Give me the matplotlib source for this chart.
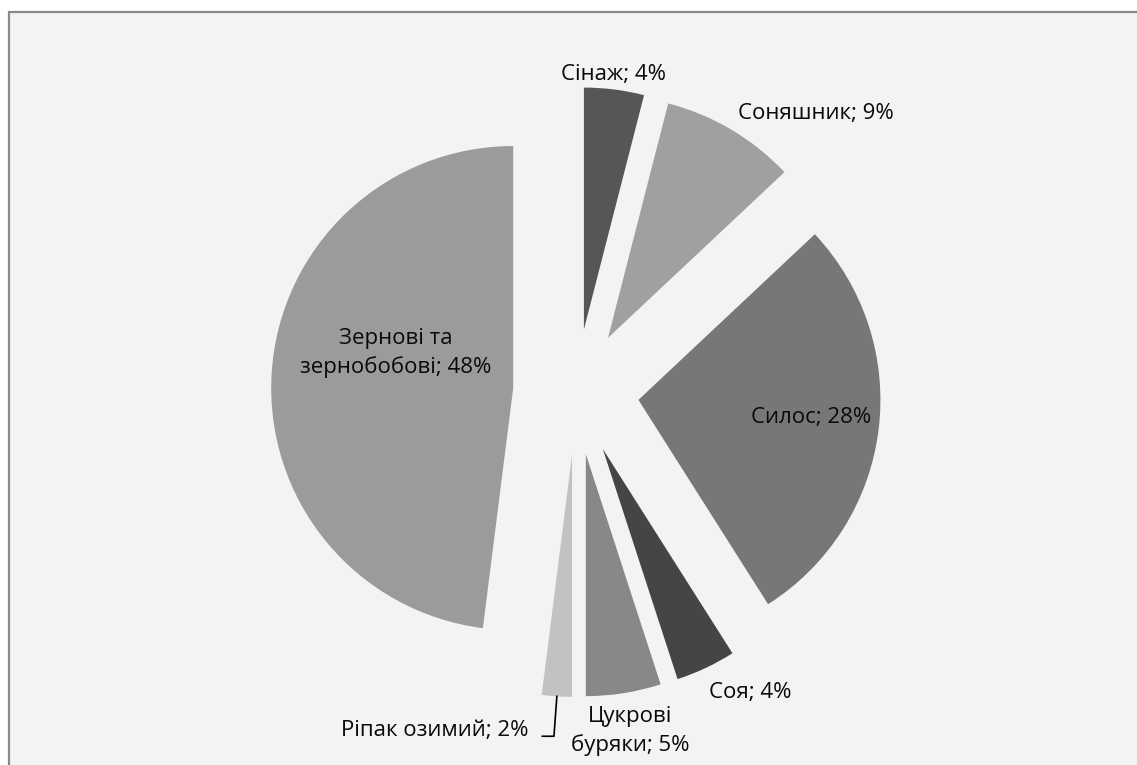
import numpy as np
import matplotlib
matplotlib.use('Agg')
import matplotlib.pyplot as plt
from matplotlib.patches import Rectangle

# crop shares, %
crops = ["Сінаж", "Соняшник", "Силос", "Соя", "Цукрові\nбуряки",
         "Ріпак озимий", "Зернові та\nзернобобові"]
shares = [4, 9, 28, 4, 5, 2, 48]
colors = ["#565656", "#a0a0a0", "#777777", "#454545", "#888888",
          "#c2c2c2", "#9b9b9b"]

# label placement (radius, clockwise angle from top, degrees)
lab_r = [1.32, 1.52, 0.977, 1.433, 1.419, 1.517, 0.761]
lab_a = [6.8, 40.7, 96.3, 149.9, 170.9, 202.6, 282.2]

plt.rcParams['font.family'] = ['Open Sans', 'DejaVu Sans']

fig = plt.figure(figsize=(11.37, 7.65), dpi=100)
fig.patch.set_facecolor('white')

# chart area frame (cut off at right and bottom)
x0 = 9 / 1137
y1 = 1 - 12 / 765
fig.patches.append(Rectangle((x0, -0.05), 1.1, y1 + 0.05, transform=fig.transFigure,
                             facecolor='#f3f3f3', edgecolor='#8a8a8a', linewidth=1.6,
                             zorder=-5))

ax = fig.add_axes([0, 0, 1, 1])
ax.set_facecolor('none')
ax.axis('off')

wedges, _ = ax.pie(shares, colors=colors, startangle=90, counterclock=False,
                   explode=[0.26] * len(shares), radius=1.0,
                   wedgeprops=dict(linewidth=0))

px = 242.0
cx, cy = 576.0, 392.0
ax.set_xlim(-cx / px, (1137 - cx) / px)
ax.set_ylim(-(765 - cy) / px, cy / px)
ax.set_aspect('auto')

for name, val, r, a in zip(crops, shares, lab_r, lab_a):
    t = np.deg2rad(a)
    txt = f"{name}; {val}%"
    ax.text(r * np.sin(t), r * np.cos(t), txt, ha='center', va='center',
            fontsize=16, color='#0a0a0a', linespacing=1.4)

# leader line for the small rapeseed slice
w = wedges[5]
mid = np.deg2rad((w.theta1 + w.theta2) / 2)
ox, oy = w.center[0] + np.cos(mid), w.center[1] + np.sin(mid)
ax.plot([ox, ox - 0.012, ox - 0.06], [oy, oy - 0.165, oy - 0.165],
        color='black', linewidth=1.2)

fig.savefig("out.png", dpi=100)
